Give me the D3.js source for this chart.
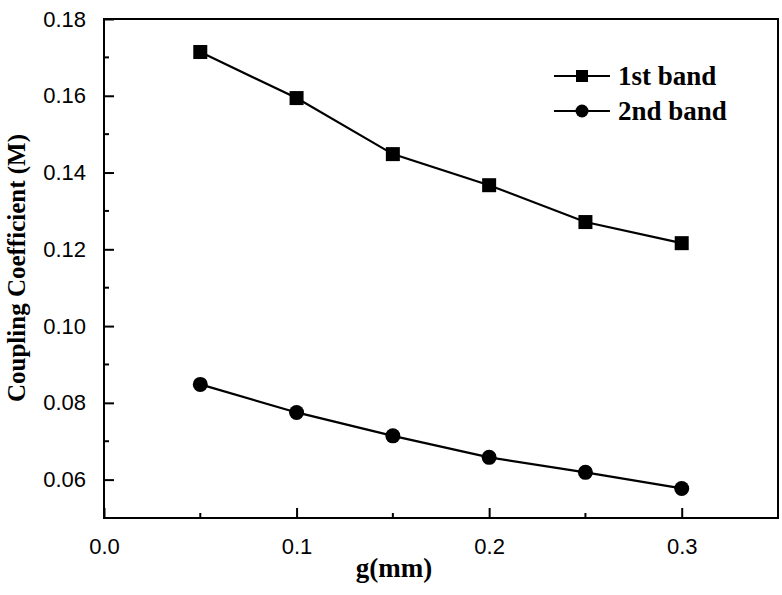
<!DOCTYPE html>
<html>
<head>
<meta charset="utf-8">
<script src="https://cdn.jsdelivr.net/npm/d3@7"></script>
<style>
  body { margin: 0; background: #fff; }
  svg { display: block; }
</style>
</head>
<body>
<svg id="chart" width="782" height="595"></svg>
<script>
// data
var gValues = [0.05, 0.10, 0.15, 0.20, 0.25, 0.30];
var band1 = [0.1714, 0.1594, 0.1448, 0.1367, 0.1271, 0.1216];
var band2 = [0.0848, 0.0775, 0.0714, 0.0658, 0.0619, 0.0577];
var seriesNames = ["1st band", "2nd band"];
var xTicks = [0.0, 0.1, 0.2, 0.3];
var yTicks = [0.06, 0.08, 0.10, 0.12, 0.14, 0.16, 0.18];

var plotL = 104, plotR = 778, plotT = 19, plotB = 518;
var svg = d3.select("#chart");

var x = d3.scaleLinear().domain([0, 0.35]).range([plotL, plotR]);
var y = d3.scaleLinear().domain([0.05, 0.18]).range([plotB, plotT]);

// frame
svg.append("rect")
  .attr("x", plotL).attr("y", plotT)
  .attr("width", plotR - plotL).attr("height", plotB - plotT)
  .attr("fill", "none").attr("stroke", "#000").attr("stroke-width", 2);

// x axis: major ticks inward, minor ticks between
var xAxis = svg.append("g").attr("transform", `translate(0,${plotB})`);
xAxis.call(d3.axisBottom(x).tickValues(xTicks).tickSizeInner(-10).tickSizeOuter(0)
    .tickFormat(d3.format(".1f")).tickPadding(20));
xAxis.select(".domain").remove();
xAxis.selectAll(".tick line").attr("stroke-width", 2);
xAxis.selectAll(".tick text")
  .attr("font-family", "Liberation Sans, Arial, sans-serif")
  .attr("font-size", 22).attr("fill", "#000");
xAxis.selectAll(".minor").data(d3.range(0.05, 0.35, 0.1)).enter()
  .append("line").attr("class", "minor")
  .attr("x1", function(d){return x(d);}).attr("x2", function(d){return x(d);})
  .attr("y1", 0).attr("y2", -5)
  .attr("stroke", "#000").attr("stroke-width", 2);

// y axis
var yAxis = svg.append("g").attr("transform", `translate(${plotL},0)`);
yAxis.call(d3.axisLeft(y).tickValues(yTicks).tickSizeInner(-10).tickSizeOuter(0)
    .tickFormat(d3.format(".2f")).tickPadding(18));
yAxis.select(".domain").remove();
yAxis.selectAll(".tick line").attr("stroke-width", 2);
yAxis.selectAll(".tick text")
  .attr("font-family", "Liberation Sans, Arial, sans-serif")
  .attr("font-size", 22).attr("fill", "#000");
yAxis.selectAll(".minor").data(d3.range(0.07, 0.18, 0.02)).enter()
  .append("line").attr("class", "minor")
  .attr("y1", function(d){return y(d);}).attr("y2", function(d){return y(d);})
  .attr("x1", 0).attr("x2", 5)
  .attr("stroke", "#000").attr("stroke-width", 2);

// axis titles
svg.append("text")
  .attr("x", 394).attr("y", 577)
  .attr("text-anchor", "middle")
  .attr("font-family", "Liberation Serif, Times New Roman, serif")
  .attr("font-weight", "bold").attr("font-size", 27)
  .text("g(mm)");
svg.append("text")
  .attr("transform", "translate(25,268) rotate(-90)")
  .attr("text-anchor", "middle")
  .attr("font-family", "Liberation Serif, Times New Roman, serif")
  .attr("font-weight", "bold").attr("font-size", 25)
  .text("Coupling Coefficient (M)");

// lines + markers
var line = d3.line()
  .x(function(d){return x(d[0]);})
  .y(function(d){return y(d[1]);});
var data1 = gValues.map(function(g, i){return [g, band1[i]];});
var data2 = gValues.map(function(g, i){return [g, band2[i]];});

[data1, data2].forEach(function(d){
  svg.append("path").datum(d)
    .attr("d", line).attr("fill", "none")
    .attr("stroke", "#000").attr("stroke-width", 2.2);
});

svg.selectAll(".sq").data(data1).enter().append("rect")
  .attr("x", function(d){return x(d[0]) - 7;})
  .attr("y", function(d){return y(d[1]) - 7;})
  .attr("width", 14).attr("height", 14).attr("fill", "#000");
svg.selectAll(".dot").data(data2).enter().append("circle")
  .attr("cx", function(d){return x(d[0]);})
  .attr("cy", function(d){return y(d[1]);})
  .attr("r", 7.5).attr("fill", "#000");

// legend
var legend = svg.append("g");
seriesNames.forEach(function(name, i){
  var ly = 76 + i * 35;
  legend.append("line").attr("x1", 554).attr("x2", 610)
    .attr("y1", ly).attr("y2", ly).attr("stroke", "#000").attr("stroke-width", 2);
  if (i === 0) {
    legend.append("rect").attr("x", 576).attr("y", ly - 6)
      .attr("width", 12).attr("height", 12).attr("fill", "#000");
  } else {
    legend.append("circle").attr("cx", 582).attr("cy", ly).attr("r", 6.5).attr("fill", "#000");
  }
  legend.append("text").attr("x", 618).attr("y", ly + 9)
    .attr("font-family", "Liberation Serif, Times New Roman, serif")
    .attr("font-weight", "bold").attr("font-size", 27)
    .text(name);
});
</script>
</body>
</html>
